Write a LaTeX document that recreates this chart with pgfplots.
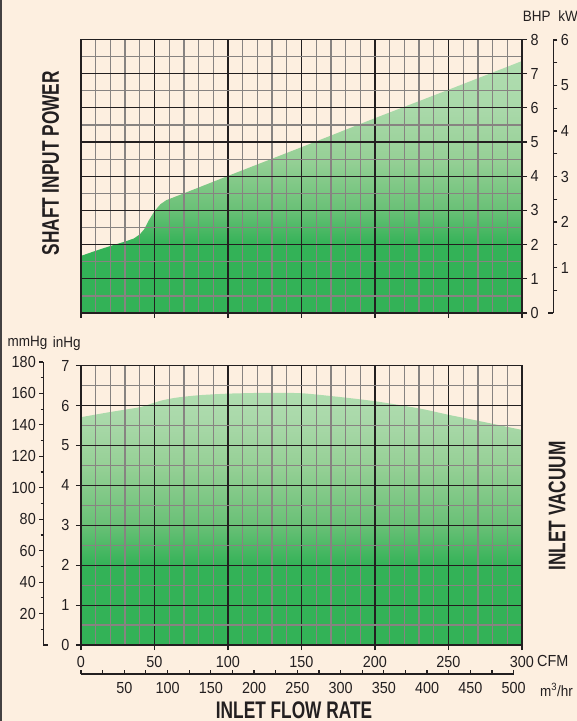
\documentclass[border=0pt]{standalone}
\usepackage{pgfplots}
\pgfplotsset{compat=1.18}
\usepackage{fontspec}
\setmainfont{Liberation Sans}
\newfontfamily\titlefont{Liberation Sans}[FakeStretch=0.72]
\newfontfamily\tickfont{Liberation Sans}[FakeStretch=0.9]

\definecolor{bg}{RGB}{253,239,224}
\definecolor{gdark}{RGB}{51,178,87}
\definecolor{gmid}{RGB}{105,192,118}
\definecolor{gmid2}{RGB}{150,208,150}
\definecolor{glight}{RGB}{170,217,170}
\definecolor{glight2}{RGB}{175,221,175}
\definecolor{gridmaj}{RGB}{35,31,32}
\definecolor{gridmin}{RGB}{135,131,129}
\definecolor{txt}{RGB}{35,31,32}

\pgfdeclareverticalshading{topfill}{100bp}{color(0bp)=(gdark); color(38.6bp)=(gdark); color(45.4bp)=(gmid); color(55.5bp)=(gmid2); color(65.7bp)=(glight); color(75bp)=(glight2); color(100bp)=(glight2)}
\pgfdeclareverticalshading{botfill}{100bp}{color(0bp)=(gdark); color(40.8bp)=(gdark); color(48.7bp)=(gmid); color(60.6bp)=(gmid2); color(70bp)=(glight); color(75bp)=(glight2); color(100bp)=(glight2)}

\pgfplotsset{
  every axis/.append style={
    /pgf/number format/assume math mode=true,
    tick label style={font=\tickfont\fontsize{16}{16}\selectfont, text=txt},
    axis line style={txt, line width=1.2pt},
    every tick/.style={txt, line width=1.2pt},
  },
  gridbox/.style={
    scale only axis, width=441pt,
    xmin=0, xmax=300,
    xtick={0,50,...,300}, minor xtick={10,20,...,290},
    minor ytick={0.5,1.5,...,7.5},
    grid=both,
    major grid style={gridmaj, line width=1.2pt},
    minor grid style={gridmin, line width=1.25pt},
    axis on top,
    tick align=outside,
    major tick length=5pt, minor tick length=0pt,
  },
}

\begin{document}
\begin{tikzpicture}[x=1pt,y=1pt]
\fill[bg] (0,0) rectangle (577,721);
\fill[txt!85] (0,0) rectangle (2,721);

% ---- top: shaft input power
\begin{axis}[gridbox, at={(81pt,408pt)}, anchor=south west, height=273.5pt,
  ymin=0, ymax=8, ytick={0,...,8},
  xtick pos=left, ytick pos=right, yticklabel pos=right,
  xticklabels={},
  yticklabel style={xshift=0pt}]
\addplot[draw=none, shade, shading=topfill] coordinates {
(0,1.67) (10,1.82) (20,1.96) (30,2.09) (36,2.18) (40,2.30) (43,2.45) (46,2.70)
(50,2.98) (54,3.18) (58,3.30) (70,3.50) (100,4.01) (150,4.85) (200,5.70)
(250,6.53) (300,7.37)} \closedcycle;
\end{axis}

% kW axis
\begin{axis}[at={(553.3pt,408pt)}, anchor=south east, scale only axis,
  width=5pt, height=273pt, xmin=0, xmax=1, ymin=0, ymax=6,
  axis y line*=right, axis x line=none, xtick=\empty,
  ytick={1,...,6}, minor ytick={0.5,1.5,...,5.5},
  tick align=outside, major tick length=4pt, minor tick length=4pt,
  extra y ticks={0}, extra y tick labels={},
  extra y tick style={tick align=inside, major tick length=5pt},
  yticklabel style={xshift=0pt}]
\end{axis}

% ---- bottom: inlet vacuum
\begin{axis}[gridbox, at={(81pt,76pt)}, anchor=south west, height=279.3pt,
  ymin=0, ymax=7, ytick={0,...,7},
  xtick pos=left, ytick pos=left,
  xticklabel style={yshift=-3pt},
  yticklabel style={xshift=-3pt}]
\addplot[draw=none, shade, shading=botfill, smooth, tension=0.4] coordinates {
(0,5.71) (20,5.84) (40,5.96) (48,6.05) (55,6.13) (65,6.20) (80,6.26) (100,6.30)
(125,6.32) (150,6.31) (175,6.22) (200,6.11) (230,5.93) (250,5.77) (270,5.62)
(300,5.39)} \closedcycle;
\end{axis}

% mmHg axis
\begin{axis}[at={(43.3pt,76pt)}, anchor=south west, scale only axis,
  width=5pt, height=283pt, xmin=0, xmax=1, ymin=0, ymax=180,
  axis y line*=left, axis x line=none, xtick=\empty,
  ytick={20,40,...,180}, minor ytick={10,30,...,170},
  tick align=outside, major tick length=4pt, minor tick length=2.7pt,
  extra y ticks={0}, extra y tick labels={},
  extra y tick style={tick align=inside, major tick length=5pt},
  yticklabel style={xshift=0pt}]
\end{axis}

% m3/hr axis
\begin{axis}[at={(81pt,47pt)}, anchor=south west, scale only axis,
  width=432.6pt, height=2pt, xmin=0, xmax=500, ymin=0, ymax=1,
  axis x line*=bottom, axis y line=none, ytick=\empty,
  xtick={0,50,...,500}, xticklabels={,50,100,150,200,250,300,350,400,450,500},
  minor xtick={25,75,...,475},
  tick align=inside, major tick length=4pt, minor tick length=4pt,
  xticklabel style={yshift=-5pt}]
\end{axis}

% texts
\node[rotate=90, text=txt, font=\titlefont\bfseries\fontsize{24}{24}\selectfont] at (50.5,557.7) {SHAFT INPUT POWER};
\node[rotate=90, text=txt, font=\titlefont\bfseries\fontsize{24}{24}\selectfont] at (557,215) {INLET VACUUM};
\node[text=txt, anchor=base, font=\titlefont\bfseries\fontsize{24}{24}\selectfont] at (294,2) {INLET FLOW RATE};
\node[text=txt, font=\tickfont\fontsize{15}{15}\selectfont] at (536.7,705) {BHP};
\node[text=txt, font=\tickfont\fontsize{15}{15}\selectfont] at (568,705) {kW};
\node[text=txt, font=\tickfont\fontsize{15}{15}\selectfont] at (27.5,377.7) {mmHg};
\node[text=txt, font=\tickfont\fontsize{15}{15}\selectfont] at (66.7,377.7) {inHg};
\node[text=txt, anchor=west, inner sep=0pt, font=\tickfont\fontsize{16}{16}\selectfont] at (537,60) {CFM};
\node[text=txt, anchor=west, inner sep=0pt, font=\tickfont\fontsize{15}{15}\selectfont] at (540,31) {m\textsuperscript{3}/hr};

\pgfresetboundingbox
\useasboundingbox (0,0) rectangle (577,721);
\end{tikzpicture}
\end{document}
